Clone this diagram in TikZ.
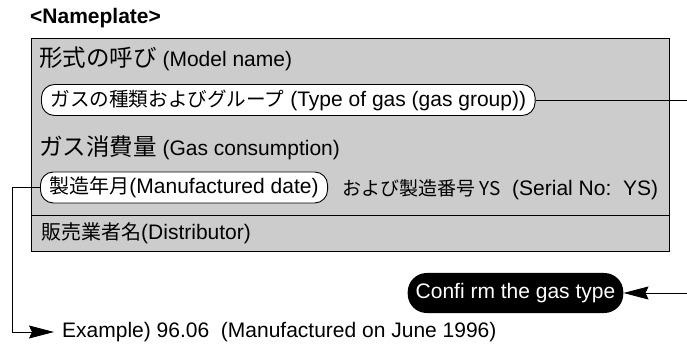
\documentclass[tikz,border=0pt]{standalone}
\usepackage{fontspec}
\setmainfont{Liberation Sans}
\newfontfamily\jp{Noto Sans CJK JP}
\usetikzlibrary{arrows.meta}
\definecolor{plategray}{RGB}{204,204,204}
\tikzset{
  txt/.style={anchor=west, inner sep=0pt, font=\fontsize{21}{24}\selectfont},
  pill/.style={draw=black, fill=white, line width=0.9pt, rounded corners=13pt, anchor=west,
    inner xsep=9pt, inner ysep=0pt, minimum height=31pt, font=\fontsize{21}{24}\selectfont},
  confirmbox/.style={fill=black, text=white, rounded corners=19pt, inner xsep=8pt,
    minimum height=40pt, minimum width=214pt, font=\fontsize{21}{24}\selectfont},
  conn/.style={draw=black, line width=0.9pt},
  tip/.style={-{Stealth[length=25pt,width=13pt,inset=3pt]}}
}
\newcommand{\jpbig}{\jp\fontsize{23.5}{26}\selectfont}
\newcommand{\jpn}{\jp\fontsize{20}{24}\selectfont}
\begin{document}
\begin{tikzpicture}[x=1pt,y=-1pt]
\useasboundingbox (0,0) rectangle (687,344);
\clip (0,0) rectangle (687,344);
% title
\node[txt, font=\fontsize{21}{24}\selectfont\bfseries] (title) at (30,18) {<Nameplate>};
% plate
\node[draw=black, fill=plategray, line width=1pt, anchor=north west, inner sep=0pt,
  minimum width=638pt, minimum height=212.5pt] (plate) at (31,38.5) {};
\draw[conn] (plate.west |- 0,215) coordinate (dl) -- (plate.east |- 0,215) coordinate (dr);
% rows
\node[txt] (model) at (39,59) {{\jpbig 形式の呼び} (Model name)};
\node[pill] (gaspill) at (41,100) {{\jp\fontsize{19.6}{24}\selectfont ガスの種類およびグループ} (Type of gas (gas group))};
\node[txt] (consump) at (39,148) {{\jpbig ガス消費量} (Gas consumption)};
\node[pill] (datepill) at (40,187.5) {{\jpn 製造年月}(Manufactured date)};
\node[txt] (serial) at (342,190) {{\jp\fontsize{19}{22}\selectfont および製造番号 YS}\ \ (Serial No:\ \ YS)};
\node[txt] (distrib) at (41,233) {{\jpn 販売業者名}(Distributor)};
% confirm
\node[confirmbox] (confirm) at (515.5,293) {Confi rm the gas type};
\node[txt] (example) at (62,332) {Example) 96.06\ \ (Manufactured on June 1996)};
% connectors
\coordinate (rt) at (700,100);
\coordinate (lt) at (12,187.5);
\draw[conn, tip] (gaspill.east) -- (rt) |- (confirm.east);
\draw[conn, tip] (datepill.west) -- (lt) |- ([xshift=-8pt]example.west);
\end{tikzpicture}
\end{document}
